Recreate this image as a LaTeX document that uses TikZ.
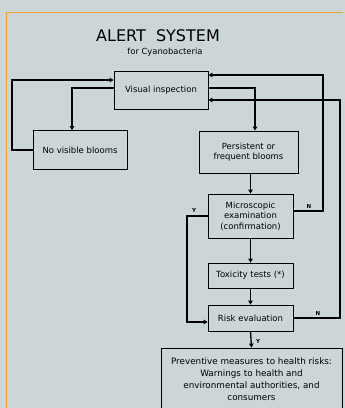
\documentclass[tikz,border=0pt]{standalone}
\usepackage{fontspec}
\setmainfont{DejaVu Sans}
\usetikzlibrary{arrows.meta}
\definecolor{bg}{RGB}{204,214,214}
\definecolor{framec}{RGB}{240,165,50}
\begin{document}
\begin{tikzpicture}[x=1pt,y=-1pt,
  box/.style={draw, line width=0.8pt, align=center, inner sep=0pt, font=\fontsize{8.5}{10.5}\selectfont},
  conn/.style={line width=1.3pt, -{Triangle[length=4pt,width=4.5pt]}},
  lab/.style={font=\fontsize{5.5}{6}\selectfont\bfseries, inner sep=0pt}]
\fill[bg] (0,0) rectangle (345,408);
\useasboundingbox (0,0) rectangle (345,408);
\draw[framec, line width=1pt] (6,408) -- (6,12) -- (343,12);
\node[font=\fontsize{16}{18}\selectfont] (title) at (158,36) {ALERT\ \ SYSTEM};
\node[font=\fontsize{8.4}{9}\selectfont] (sub) at (165,52) {for Cyanobacteria};
\node[box, minimum width=94pt, minimum height=38pt] (vis) at (161,90) {Visual inspection};
\node[box, minimum width=94pt, minimum height=39pt] (nvb) at (80,150) {No visible blooms};
\node[box, minimum width=99pt, minimum height=42pt] (per) at (248.5,152) {Persistent or\\frequent blooms};
\node[box, minimum width=85pt, minimum height=44pt] (mic) at (250.5,216) {Microscopic\\examination\\(confirmation)};
\node[box, minimum width=85pt, minimum height=25pt] (tox) at (250.5,275.5) {Toxicity tests (*)};
\node[box, minimum width=85pt, minimum height=26pt] (risk) at (250.5,318) {Risk evaluation};
\node[box, minimum width=181pt, minimum height=62pt, font=\fontsize{8.8}{12}\selectfont] (prev) at (251.5,379) {Preventive measures to health risks:\\Warnings to health and\\environmental authorities, and\\consumers};
\draw[conn] (nvb.west) -| (12,80) -- ([yshift=10pt]vis.west);
\draw[conn] ([yshift=2pt]vis.west) -| ([xshift=-8pt]nvb.north);
\draw[conn] ([yshift=2pt]vis.east) -| ([xshift=6.5pt]per.north);
\draw[conn] (mic.north |- per.south) -- (mic.north);
\draw[conn] (mic.south) -- (tox.north);
\draw[conn] (tox.south) -- (risk.north);
\draw[conn] ([yshift=5pt]mic.east) -| (323,75) -- ([yshift=15pt]vis.east);
\draw[conn] (risk.east) -| (340,100) -- ([yshift=-10pt]vis.east);
\draw[conn] (mic.west) -| (187,322) -- ([yshift=-4pt]risk.west);
\draw[conn] (risk.south) -- (prev.north);
\node[lab] (n1) at (309,206) {N};
\node[lab] (n2) at (318,313) {N};
\node[lab] (y1) at (194,210) {Y};
\node[lab] (y2) at (258,341) {Y};
\end{tikzpicture}
\end{document}
